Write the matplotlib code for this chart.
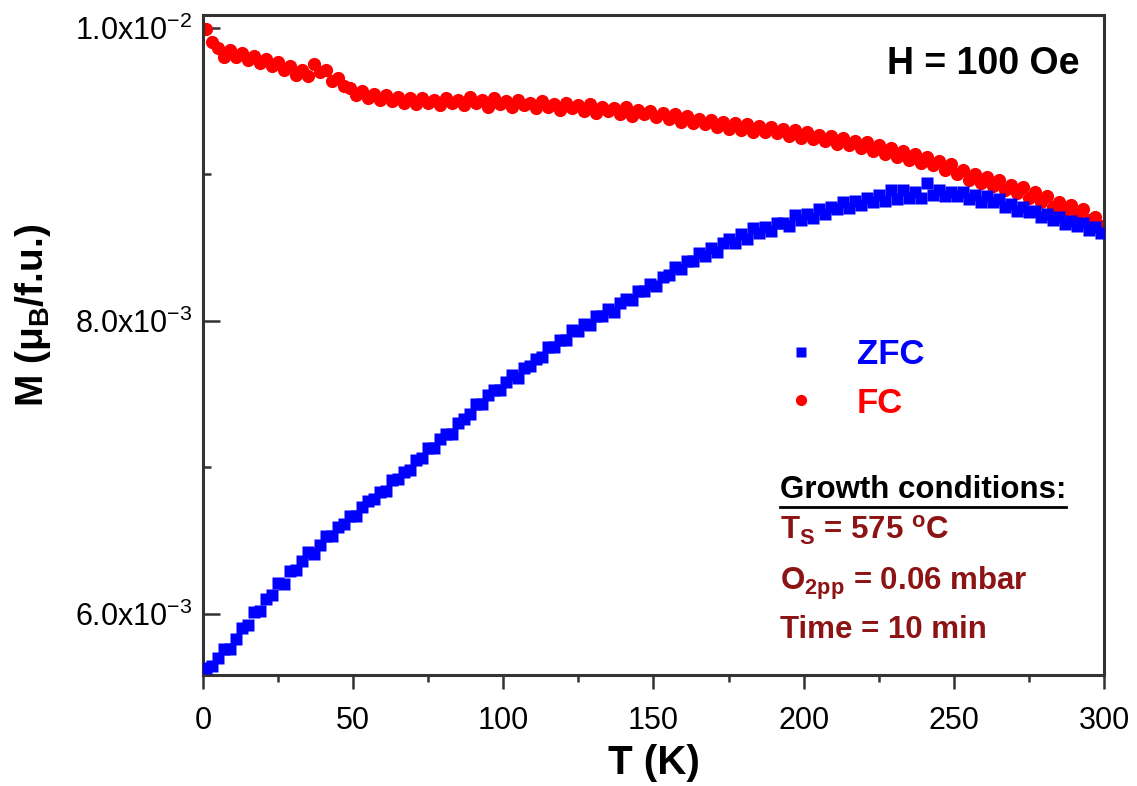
import numpy as np
import matplotlib
matplotlib.use("Agg")
import matplotlib.pyplot as plt
from matplotlib.ticker import MultipleLocator, FixedLocator, FixedFormatter

plt.rcParams['font.family'] = ['Liberation Sans', 'DejaVu Sans']
plt.rcParams['mathtext.fontset'] = 'custom'
plt.rcParams['mathtext.rm'] = 'Liberation Sans'
plt.rcParams['mathtext.bf'] = 'Liberation Sans:bold'
plt.rcParams['mathtext.default'] = 'regular'

# temperature grid (K), same for both sweeps
T = [1, 3, 5, 7, 9, 11, 13, 15, 17, 19, 21, 23, 25, 27, 29, 31, 33, 35, 37, 39,
     41, 43, 45, 47, 49, 51, 53, 55, 57, 59, 61, 63, 65, 67, 69, 71, 73, 75, 77, 79,
     81, 83, 85, 87, 89, 91, 93, 95, 97, 99, 101, 103, 105, 107, 109, 111, 113, 115, 117, 119,
     121, 123, 125, 127, 129, 131, 133, 135, 137, 139, 141, 143, 145, 147, 149, 151, 153, 155, 157, 159,
     161, 163, 165, 167, 169, 171, 173, 175, 177, 179, 181, 183, 185, 187, 189, 191, 193, 195, 197, 199,
     201, 203, 205, 207, 209, 211, 213, 215, 217, 219, 221, 223, 225, 227, 229, 231, 233, 235, 237, 239,
     241, 243, 245, 247, 249, 251, 253, 255, 257, 259, 261, 263, 265, 267, 269, 271, 273, 275, 277, 279,
     281, 283, 285, 287, 289, 291, 293, 295, 297, 299]

# magnetization in units of 1e-3 muB/f.u.
zfc = [5.63, 5.64, 5.70, 5.76, 5.76, 5.83, 5.90, 5.92, 6.01, 6.02,
       6.10, 6.13, 6.21, 6.20, 6.29, 6.30, 6.36, 6.42, 6.41, 6.47,
       6.53, 6.53, 6.59, 6.61, 6.67, 6.67, 6.73, 6.77, 6.78, 6.83,
       6.84, 6.91, 6.92, 6.97, 6.98, 7.05, 7.06, 7.13, 7.13, 7.19,
       7.23, 7.23, 7.30, 7.33, 7.36, 7.43, 7.43, 7.49, 7.53, 7.53,
       7.58, 7.63, 7.61, 7.68, 7.69, 7.74, 7.75, 7.82, 7.82, 7.87,
       7.87, 7.94, 7.93, 7.98, 7.97, 8.03, 8.03, 8.08, 8.06, 8.12,
       8.15, 8.14, 8.20, 8.20, 8.25, 8.24, 8.30, 8.31, 8.37, 8.35,
       8.41, 8.41, 8.46, 8.44, 8.50, 8.47, 8.53, 8.56, 8.53, 8.59,
       8.56, 8.63, 8.60, 8.64, 8.61, 8.67, 8.67, 8.65, 8.72, 8.69,
       8.73, 8.70, 8.76, 8.73, 8.78, 8.76, 8.81, 8.77, 8.82, 8.79,
       8.84, 8.81, 8.86, 8.82, 8.89, 8.83, 8.89, 8.84, 8.88, 8.84,
       8.94, 8.86, 8.89, 8.85, 8.88, 8.85, 8.88, 8.83, 8.86, 8.81,
       8.85, 8.81, 8.83, 8.78, 8.80, 8.75, 8.78, 8.74, 8.75, 8.71,
       8.73, 8.69, 8.71, 8.66, 8.68, 8.65, 8.67, 8.62, 8.64, 8.60]

fc = [9.99, 9.90, 9.86, 9.80, 9.85, 9.80, 9.83, 9.78, 9.81, 9.76,
      9.79, 9.74, 9.77, 9.71, 9.74, 9.68, 9.71, 9.67, 9.75, 9.70,
      9.71, 9.64, 9.66, 9.60, 9.59, 9.54, 9.57, 9.52, 9.55, 9.51,
      9.54, 9.50, 9.53, 9.49, 9.52, 9.48, 9.52, 9.49, 9.51, 9.47,
      9.52, 9.49, 9.51, 9.47, 9.53, 9.49, 9.51, 9.46, 9.52, 9.48,
      9.50, 9.46, 9.51, 9.47, 9.49, 9.45, 9.50, 9.46, 9.48, 9.44,
      9.49, 9.45, 9.47, 9.43, 9.48, 9.42, 9.46, 9.43, 9.45, 9.41,
      9.46, 9.40, 9.44, 9.41, 9.43, 9.39, 9.42, 9.38, 9.41, 9.36,
      9.40, 9.35, 9.38, 9.34, 9.37, 9.32, 9.36, 9.31, 9.35, 9.30,
      9.34, 9.29, 9.33, 9.29, 9.32, 9.28, 9.31, 9.26, 9.30, 9.25,
      9.29, 9.24, 9.27, 9.23, 9.26, 9.21, 9.25, 9.20, 9.23, 9.18,
      9.22, 9.16, 9.20, 9.14, 9.18, 9.12, 9.16, 9.10, 9.14, 9.08,
      9.12, 9.06, 9.09, 9.03, 9.07, 9.00, 9.03, 8.96, 9.00, 8.94,
      8.98, 8.92, 8.96, 8.89, 8.93, 8.87, 8.91, 8.84, 8.88, 8.81,
      8.85, 8.78, 8.81, 8.75, 8.79, 8.72, 8.76, 8.69, 8.71, 8.65]

zfc = np.array(zfc) * 1e-3
fc = np.array(fc) * 1e-3

dark_red = '#8c1414'

fig = plt.figure(figsize=(11.37, 7.86), dpi=100)
ax = fig.add_axes([0.1785, 0.141, 0.7925, 0.840])

ax.plot(T, fc, 'o', color='#ff0000', ms=9.5, mec='none', label='FC', zorder=2)
ax.plot(T, zfc, 's', color='#0000ff', ms=8.0, mec='none', label='ZFC', zorder=3)

ax.set_xlim(0, 300)
ax.set_ylim(5.58e-3, 1.0088e-2)

ax.xaxis.set_major_locator(MultipleLocator(50))
ax.xaxis.set_minor_locator(MultipleLocator(25))
ax.yaxis.set_major_locator(FixedLocator([6e-3, 8e-3, 1e-2]))
ax.yaxis.set_major_formatter(FixedFormatter([r'6.0x10$^{-3}$', r'8.0x10$^{-3}$', r'1.0x10$^{-2}$']))
ax.yaxis.set_minor_locator(FixedLocator([7e-3, 9e-3]))

ax.tick_params(axis='x', which='major', direction='out', length=10, width=1.8, labelsize=22, pad=12, color='#333333')
ax.tick_params(axis='x', which='minor', direction='out', length=5, width=1.8, color='#333333')
ax.tick_params(axis='y', which='major', direction='in', length=12, width=1.8, labelsize=22, pad=8, color='#333333')
ax.tick_params(axis='y', which='minor', direction='in', length=6, width=1.8, color='#333333')
for s in ax.spines.values():
    s.set_linewidth(2.2)
    s.set_color('#333333')

ax.set_xlabel('T (K)', fontsize=29, fontweight='bold', labelpad=6)
ax.set_ylabel(r'M (μ$_\mathbf{B}$/f.u.)', fontsize=28, fontweight='bold')
ax.yaxis.set_label_coords(-0.166, 0.545)

ax.text(0.973, 0.925, 'H = 100 Oe', transform=ax.transAxes, ha='right', va='center',
        fontsize=27, fontweight='bold')

h, l = ax.get_legend_handles_labels()
leg = ax.legend(h[::-1], l[::-1], loc='upper left', bbox_to_anchor=(0.61, 0.558), frameon=False,
                prop={'weight': 'bold', 'size': 25}, markerscale=0.85, handlelength=1.0,
                handletextpad=1.1, labelspacing=0.45, numpoints=1)
for txt, c in zip(leg.get_texts(), ['#0000ff', '#ff0000']):
    txt.set_color(c)

fs = 22.5
gc = ax.text(0.64, 0.268, 'Growth conditions:', transform=ax.transAxes, ha='left', va='baseline',
             fontsize=fs, fontweight='bold')
ax.text(0.64, 0.2045, r'T$_\mathbf{S}$ = 575 $^\mathbf{o}$C', transform=ax.transAxes, ha='left',
        va='baseline', fontsize=fs, fontweight='bold', color=dark_red)
ax.text(0.64, 0.129, r'O$_\mathbf{2pp}$ = 0.06 mbar', transform=ax.transAxes, ha='left',
        va='baseline', fontsize=fs, fontweight='bold', color=dark_red)
ax.text(0.64, 0.056, 'Time = 10 min', transform=ax.transAxes, ha='left',
        va='baseline', fontsize=fs, fontweight='bold', color=dark_red)

# underline under the heading
fig.canvas.draw()
bb = gc.get_window_extent().transformed(fig.transFigure.inverted())
fig.add_artist(plt.Line2D([bb.x0, bb.x1], [bb.y0 - 0.002, bb.y0 - 0.002], transform=fig.transFigure,
                          color='black', lw=2.0))

fig.savefig('out.png', dpi=100)
